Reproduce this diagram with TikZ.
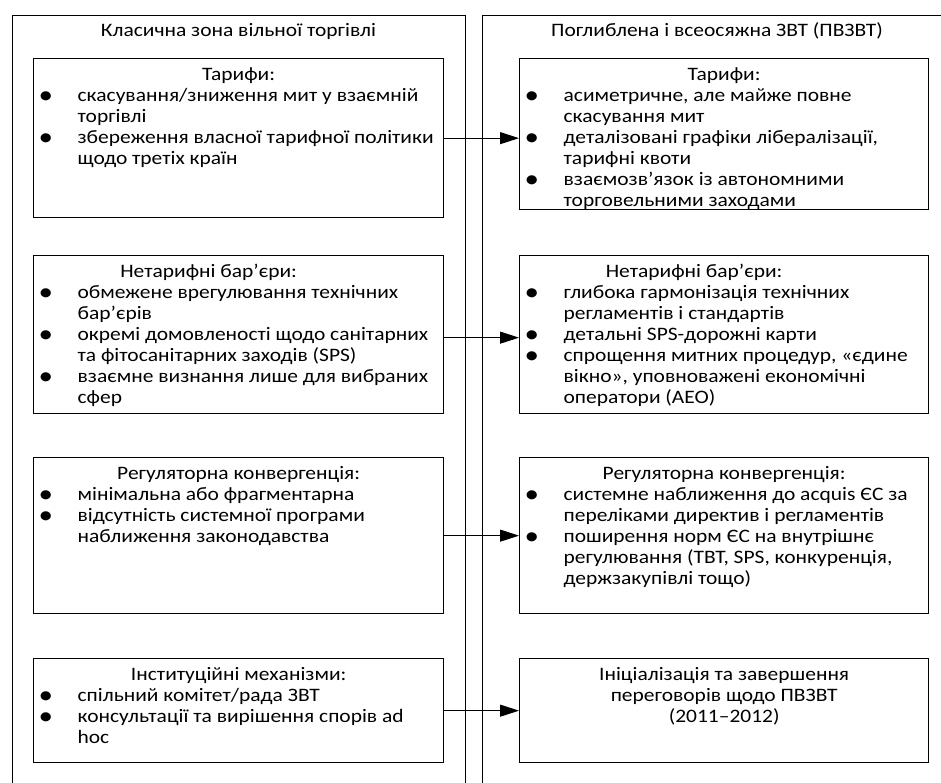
\documentclass[tikz,border=0pt]{standalone}
\usepackage{graphicx}
\usepackage{fontspec}
\setmainfont[FakeStretch=1.13]{Carlito}
\usetikzlibrary{arrows.meta}

% body text size and leading
\newcommand{\bodysize}{\fontsize{19}{21}\selectfont}
% centred heading line of a panel
\newcommand{\panelhead}[1]{{\centering\rule{0pt}{22pt}#1\par}}
% list bullet, a little heavier than the text one, taking no line height
\newcommand{\listdot}{\raisebox{-1.8pt}[0pt][0pt]{\scalebox{1.35}{•}}}
% bulleted entry with hanging indent
\newcommand{\bentry}[1]{\par\hangindent=44pt\hangafter=1\noindent\makebox[44pt][l]{\hspace{5pt}\listdot}#1\par}
% panel body: fixed width and height, text set from the top
\newcommand{\panelbody}[3]{\parbox[c][#2][t]{#1}{\bodysize\parindent=0pt\raggedright #3}}

\tikzset{
  zone/.style={draw, line width=1.3pt, inner sep=0pt, anchor=north west},
  zonetitle/.style={anchor=base, inner sep=0pt, font=\bodysize},
  panel/.style={draw, line width=1.3pt, inner sep=0pt, anchor=north west},
  conn/.style={line width=1pt, -{Triangle[length=19pt,width=12pt]}},
}

\begin{document}
\begin{tikzpicture}[x=1pt,y=-1pt]
  \path[use as bounding box] (0,0) rectangle (941,782);
  \clip (0,0) rectangle (941,782);

  % the two zones
  \node[zone, minimum width=453pt, minimum height=800pt] (zl) at (12,15) {};
  \node[zone, minimum width=470pt, minimum height=800pt] (zr) at (482,15) {};
  \node[zonetitle] (tl) at (238.5,36) {Класична зона вільної торгівлі};
  \node[zonetitle] (tr) at (717,36) {Поглиблена і всеосяжна ЗВТ (ПВЗВТ)};

  % left column
  \node[panel] (l1) at (33,58) {\panelbody{410pt}{159pt}{%
    \panelhead{Тарифи:}
    \bentry{скасування/зниження мит у взаємній\newline торгівлі}
    \bentry{збереження власної тарифної політики\newline щодо третіх країн}}};
  \node[panel] (l2) at (33,255) {\panelbody{410pt}{158pt}{%
    \panelhead{Нетарифні бар’єри:\hspace*{60pt}}
    \bentry{обмежене врегулювання технічних\newline бар’єрів}
    \bentry{окремі домовленості щодо санітарних\newline та фітосанітарних заходів (SPS)}
    \bentry{взаємне визнання лише для вибраних\newline сфер}}};
  \node[panel] (l3) at (33,457) {\panelbody{410pt}{156pt}{%
    \panelhead{Регуляторна конвергенція:}
    \bentry{мінімальна або фрагментарна}
    \bentry{відсутність системної програми\newline наближення законодавства}}};
  \node[panel] (l4) at (33,658) {\panelbody{410pt}{104pt}{%
    \panelhead{Інституційні механізми:}
    \bentry{спільний комітет/рада ЗВТ}
    \bentry{консультації та вирішення спорів ad\newline hoc}}};

  % right column
  \node[panel] (r1) at (519,58) {\panelbody{409pt}{151pt}{%
    \panelhead{Тарифи:}
    \bentry{асиметричне, але майже повне\newline скасування мит}
    \bentry{деталізовані графіки лібералізації,\newline тарифні квоти}
    \bentry{взаємозв’язок із автономними\newline торговельними заходами}}};
  \node[panel] (r2) at (519,255) {\panelbody{409pt}{158pt}{%
    \panelhead{Нетарифні бар’єри:\hspace*{60pt}}
    \bentry{глибока гармонізація технічних\newline регламентів і стандартів}
    \bentry{детальні SPS-дорожні карти}
    \bentry{спрощення митних процедур, «єдине\newline вікно», уповноважені економічні\newline оператори (AEO)}}};
  \node[panel] (r3) at (519,457) {\panelbody{409pt}{156pt}{%
    \panelhead{Регуляторна конвергенція:}
    \bentry{системне наближення до acquis ЄС за\newline переліками директив і регламентів}
    \bentry{поширення норм ЄС на внутрішнє\newline регулювання (TBT, SPS, конкуренція,\newline держзакупівлі тощо)}}};
  \node[panel] (r4) at (519,658) {\panelbody{409pt}{104pt}{%
    \panelhead{Ініціалізація та завершення\\переговорів щодо ПВЗВТ\\(2011–2012)}}};

  % connectors
  \draw[conn] (l1.east) -- (l1.east -| r1.west);
  \draw[conn] ([yshift=-3pt]l2.east) -- ([yshift=-3pt]l2.east -| r2.west);
  \draw[conn] (l3.east) -- (l3.east -| r3.west);
  \draw[conn] (l4.east) -- (l4.east -| r4.west);
\end{tikzpicture}
\end{document}
